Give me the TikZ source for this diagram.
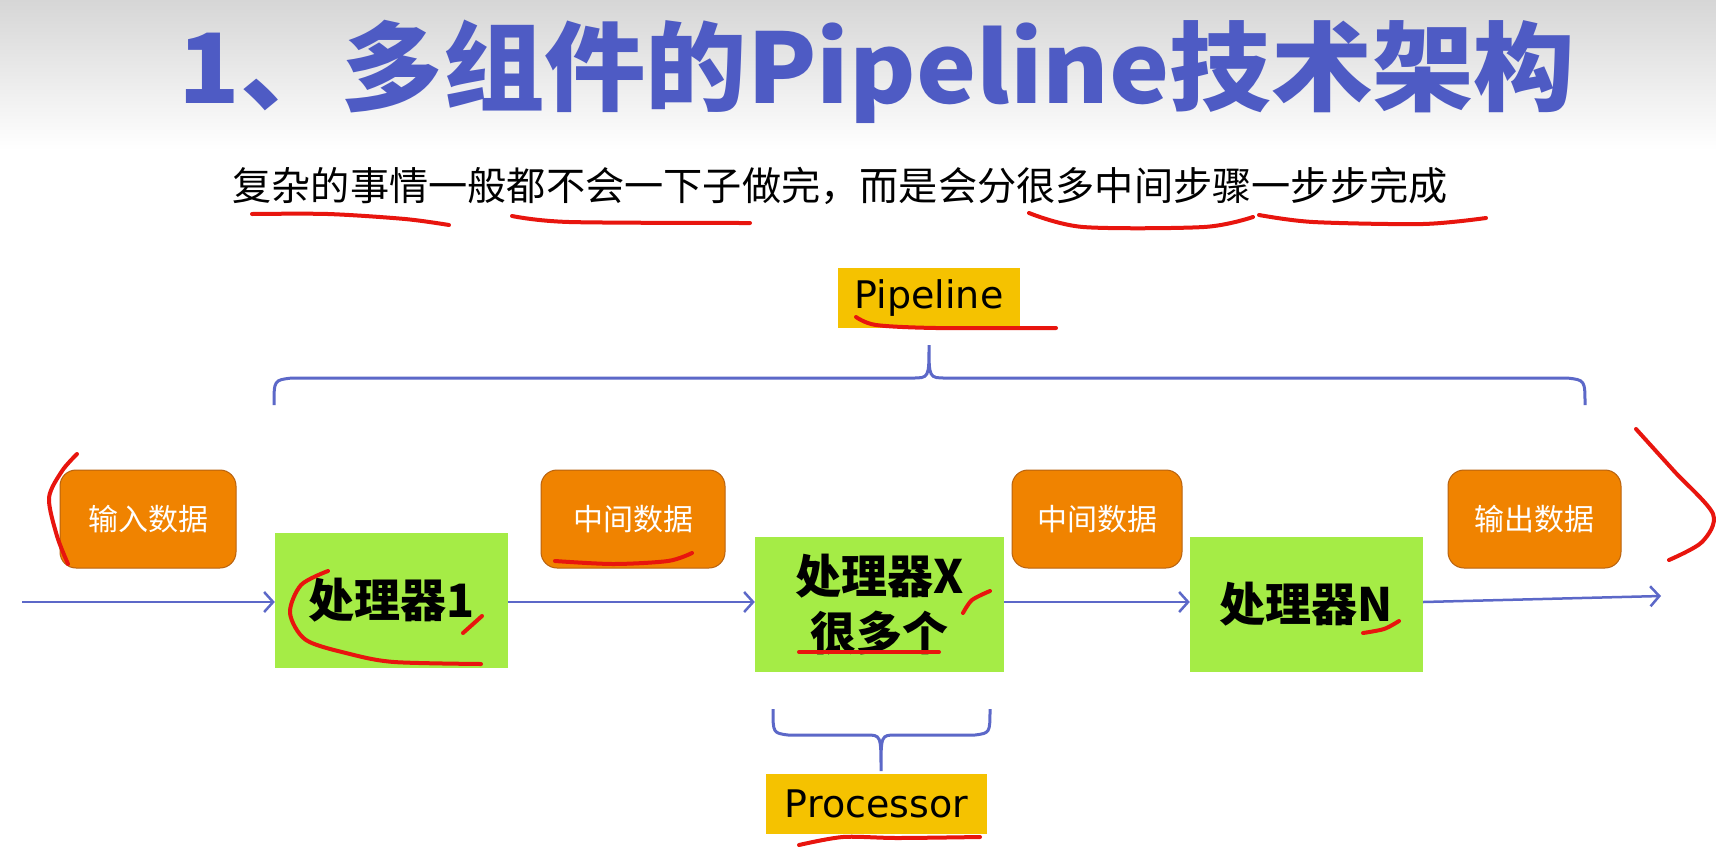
\documentclass[tikz,border=0pt]{standalone}
\usepackage{graphicx}
\usepackage{fontspec}
\setmainfont{DejaVu Sans}
\newfontfamily\cjk{Noto Sans CJK SC}
\usetikzlibrary{arrows.meta}
\definecolor{titleblue}{RGB}{78,91,196}
\definecolor{lineblue}{RGB}{92,104,200}
\definecolor{orangefill}{RGB}{240,131,0}
\definecolor{orangeedge}{RGB}{184,98,15}
\definecolor{greenfill}{RGB}{165,236,70}
\definecolor{yellowfill}{RGB}{245,194,0}
\definecolor{inkred}{RGB}{232,21,14}
\definecolor{headgray}{RGB}{214,214,214}
\begin{document}
\begin{tikzpicture}[x=1pt,y=-1pt,
  databox/.style={draw=orangeedge, line width=1pt, fill=orangefill, rounded corners=16pt,
    minimum height=98pt, inner sep=0pt, text=white, font=\cjk\fontsize{30}{30}\selectfont},
  procbox/.style={fill=greenfill, minimum height=135pt, inner sep=0pt, align=center,
    font=\cjk\bfseries\fontsize{46}{57}\selectfont},
  labelbox/.style={fill=yellowfill, inner sep=0pt, minimum height=60pt, font=\fontsize{38}{38}\selectfont},
  arr/.style={draw=lineblue, line width=2.5pt, -{Straight Barb[length=9pt,width=20pt]}},
  bracepath/.style={draw=lineblue, line width=3pt},
  ink/.style={draw=inkred, line width=4pt, line cap=round, line join=round},
]
\useasboundingbox (0,0) rectangle (1716,855);
\fill[white] (0,0) rectangle (1716,855);
\shade[top color=headgray, bottom color=white] (0,0) rectangle (1716,150);

% title and subtitle
\node[text=titleblue, font=\cjk\bfseries\fontsize{97}{97}\selectfont, inner sep=0pt] (title) at (877,72) {\scalebox{1.045}[1]{1、多组件的Pipeline技术架构}};
\node[font=\cjk\fontsize{39.2}{39.2}\selectfont, inner sep=0pt] (sub) at (840,186) {复杂的事情一般都不会一下子做完，而是会分很多中间步骤一步步完成};

% label boxes
\node[labelbox, minimum width=182pt] (pipe) at (929,298) {Pipeline};
\node[labelbox, minimum width=221pt] (proc) at (876.5,804) {Processor};

% data boxes
\node[databox, minimum width=176pt] (in) at (148,519) {输入数据};
\node[databox, minimum width=184pt] (m1) at (633,519) {中间数据};
\node[databox, minimum width=170pt] (m2) at (1097,519) {中间数据};
\node[databox, minimum width=173pt] (out) at (1534.5,519) {输出数据};

% processor boxes
\node[procbox, minimum width=233pt] (p1) at (391.5,600) {处理器1};
\node[procbox, minimum width=249pt] (pX) at (879.5,604.5) {处理器X\\很多个};
\node[procbox, minimum width=233pt] (pN) at (1306.5,604.5) {处理器N};

% arrows
\coordinate (row) at (0,602);
\coordinate (start) at (22,602);
\coordinate (end) at (1661,596);
\draw[arr] (start) -- (p1.west |- row);
\draw[arr] (p1.east |- row) -- (pX.west |- row);
\draw[arr] (pX.east |- row) -- (pN.west |- row);
\draw[arr] (pN.east |- row) -- (end);

% braces
\draw[bracepath] (274,405) .. controls (274,380) .. (292,378) -- (912,378)
  .. controls (929,378) .. (929,345) .. controls (929,378) .. (946,378)
  -- (1567,378) .. controls (1585,380) .. (1585,405);
\draw[bracepath] (773,709) .. controls (773,733) .. (788,735) -- (866,735)
  .. controls (881,735) .. (881,771) .. controls (881,735) .. (896,735)
  -- (975,735) .. controls (990,733) .. (990,709);

% red ink annotations
\draw[ink] plot[smooth] coordinates {(252,214) (328,214) (405,219) (449,225)};
\draw[ink] plot[smooth] coordinates {(512,216) (569,222) (750,223)};
\draw[ink] plot[smooth] coordinates {(1029,213) (1083,227) (1204,227) (1253,217)};
\draw[ink] plot[smooth] coordinates {(1259,215) (1313,222) (1423,224) (1486,218)};
\draw[ink] plot[smooth] coordinates {(856,317) (876,325) (936,328) (1056,328)};
\draw[ink] plot[smooth] coordinates {(77,454) (62,471) (49,498) (57,536) (68,564)};
\draw[ink] plot[smooth] coordinates {(1636,429) (1674,471) (1713,514) (1702,542) (1669,560)};
\draw[ink] plot[smooth] coordinates {(555,561) (613,564) (668,561) (692,553)};
\draw[ink] plot[smooth] coordinates {(328,571) (301,585) (290,613) (306,640) (350,654) (394,662) (481,664)};
\draw[ink] (463,633) -- (482,616);
\draw[ink] plot[smooth] coordinates {(963,613) (972,600) (990,591)};
\draw[ink] (799,652) -- (939,652);
\draw[ink] plot[smooth] coordinates {(1363,633) (1384,629) (1399,621)};
\draw[ink] plot[smooth] coordinates {(799,845) (843,837) (897,838) (980,837)};
\end{tikzpicture}
\end{document}
